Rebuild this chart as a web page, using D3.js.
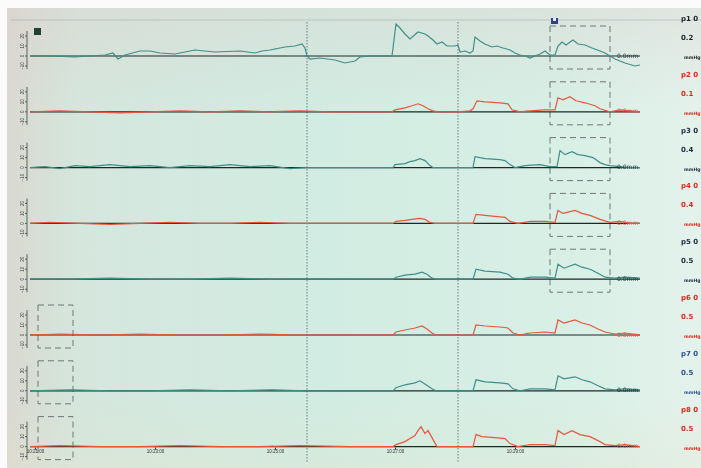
<!DOCTYPE html>
<html>
<head>
<meta charset="utf-8">
<title>Pressure channels</title>
<script src="https://d3js.org/d3.v7.min.js"></script>
<style>
  body { margin: 0; background: #fff; }
  svg { display: block; font-family: "DejaVu Sans", sans-serif; }
</style>
</head>
<body>
<svg id="chart" width="701" height="468"></svg>
<script>
// channel labels on the right
const channelNames = ["p1 0", "p2 0", "p3 0", "p4 0", "p5 0", "p6 0", "p7 0", "p8 0"];
const scaleLabels = ["0.2", "0.1", "0.4", "0.4", "0.5", "0.5", "0.5", "0.5"];
const unitLabel = "mmHg";
const zeroLabel = "0.0mm";
const yTicks = [20, 10, 0, -10];
const timeTicks = [5, 125, 245, 365, 485];
const timeLabels = ["10:21:00", "10:23:00", "10:25:00", "10:27:00", "10:29:00"];
const eventMarks = [277, 428];       // seconds
const boxRangeRight = [520, 580];    // selection box on channels 1-5
const boxRangeLeft = [8, 43];        // selection box on channels 6-8

// traces: [time s, value]
const p1 = [[0,0],[20,0],[45,-1],[60,0],[75,1],[83,3],[88,-3],[95,1],[110,5],[120,5],[130,3],[145,2],[150,3],[165,6],[185,4],[210,5],[225,3],[232,5],[240,6],[250,8],[255,9],[265,10],[272,12],[275,8],[277,0],[280,-3],[290,-2],[305,-4],[315,-7],[325,-5],[330,-1],[340,0],[362,0],[366,32],[370,28],[375,22],[380,17],[388,24],[395,22],[398,20],[403,16],[407,12],[412,14],[417,10],[425,10],[428,11],[430,4],[435,5],[440,3],[443,5],[445,19],[450,15],[455,12],[462,9],[467,10],[473,8],[480,6],[485,3],[490,1],[495,0],[500,-2],[510,2],[515,5],[520,1],[525,1],[528,10],[532,14],[536,11],[543,16],[548,12],[555,11],[562,8],[570,5],[575,3],[580,0],[585,-3],[595,-7],[605,-10],[610,-9]];
const p2 = [[0,0],[30,1],[60,0],[90,-1],[120,0],[150,1],[180,0],[210,1],[240,0],[270,1],[300,0],[330,0],[362,0],[365,2],[375,4],[382,6],[388,8],[393,6],[398,3],[403,1],[408,0],[428,0],[440,1],[443,3],[447,11],[455,10],[470,9],[478,8],[482,2],[490,0],[500,1],[515,2],[525,2],[528,14],[533,12],[540,15],[546,11],[555,9],[565,6],[570,3],[580,0],[590,2],[600,1],[610,0]];
const p3 = [[0,0],[15,1],[30,-1],[45,2],[60,1],[80,3],[100,1],[120,2],[140,0],[160,2],[180,1],[200,3],[220,1],[240,2],[260,-1],[277,0],[300,0],[340,0],[363,0],[365,3],[375,4],[380,6],[385,7],[390,9],[395,7],[400,2],[403,0],[428,0],[443,0],[445,11],[455,9],[470,8],[475,7],[480,3],[485,0],[495,2],[510,3],[515,2],[520,1],[527,1],[530,17],[535,13],[542,16],[548,13],[555,12],[563,10],[570,5],[575,3],[580,2],[590,1],[600,0],[610,0]];
const p4 = [[0,0],[20,1],[50,0],[80,-1],[110,0],[140,1],[170,0],[200,0],[230,1],[260,0],[290,0],[320,0],[363,0],[366,2],[375,3],[382,4],[390,5],[395,4],[400,1],[405,0],[428,0],[443,0],[446,9],[455,8],[465,7],[475,6],[480,2],[488,0],[500,2],[515,2],[525,1],[528,13],[533,10],[545,13],[552,10],[560,8],[570,4],[580,1],[590,2],[600,0],[610,0]];
const p5 = [[0,0],[40,0],[80,1],[120,0],[160,0],[200,1],[240,0],[277,0],[320,0],[363,0],[366,2],[375,4],[385,5],[392,7],[397,5],[402,1],[406,0],[428,0],[443,0],[446,10],[455,8],[470,7],[478,5],[483,1],[490,0],[500,2],[515,2],[525,1],[528,15],[534,11],[545,15],[552,12],[560,10],[568,6],[575,2],[585,1],[595,2],[610,1]];
const p6 = [[0,0],[30,1],[70,0],[110,1],[150,0],[190,0],[230,1],[270,0],[320,0],[363,0],[366,3],[375,5],[385,7],[392,9],[397,6],[402,2],[406,0],[428,0],[443,0],[446,10],[455,9],[470,8],[478,7],[483,2],[490,0],[500,2],[515,3],[525,2],[528,15],[534,12],[545,15],[552,12],[560,10],[568,6],[575,3],[585,1],[595,2],[610,0]];
const p7 = [[0,0],[40,1],[80,0],[120,0],[160,1],[200,0],[240,1],[277,0],[320,0],[363,0],[366,3],[375,6],[385,8],[390,10],[396,6],[402,2],[406,0],[428,0],[443,0],[446,11],[455,9],[470,8],[478,7],[483,2],[490,0],[500,2],[515,2],[525,1],[528,15],[534,12],[545,14],[552,11],[560,9],[568,5],[575,2],[585,1],[595,2],[610,1]];
const p8 = [[0,0],[30,1],[70,0],[110,0],[150,1],[190,0],[230,0],[270,1],[320,0],[363,0],[366,2],[375,5],[380,8],[385,11],[388,16],[391,20],[395,13],[398,16],[402,9],[407,0],[428,0],[443,0],[446,12],[452,10],[465,9],[475,8],[480,3],[488,0],[500,2],[515,2],[525,1],[528,16],[534,12],[542,16],[550,12],[560,10],[568,6],[575,2],[585,1],[595,2],[610,0]];
const traces = [p1, p2, p3, p4, p5, p6, p7, p8];

// styling
const teal = "#3f8f86", red = "#e8553e";
const traceColors = [teal, red, teal, red, teal, red, teal, red];
const labelColors = ["#1b2326", "#e0281c", "#1b2a3a", "#e0281c", "#1b2a3a", "#e0281c", "#2c4f8a", "#e0281c"];

const svg = d3.select("#chart");
const W = 701, H = 468;

// screen background (photo of a monitor)
const defs = svg.append("defs");
const g1 = defs.append("linearGradient").attr("id", "bgH");
[["0%", "#dad9d0"], ["10%", "#d5e6dd"], ["45%", "#d1ece2"], ["80%", "#d8efe6"], ["100%", "#e4f2ec"]]
  .forEach(([o, c]) => g1.append("stop").attr("offset", o).attr("stop-color", c));
const g2 = defs.append("linearGradient").attr("id", "bgV").attr("x1", 0).attr("x2", 0).attr("y1", 0).attr("y2", 1);
g2.append("stop").attr("offset", "0%").attr("stop-color", "#dccfcc").attr("stop-opacity", 0.35);
g2.append("stop").attr("offset", "22%").attr("stop-color", "#dccfcc").attr("stop-opacity", 0);
g2.append("stop").attr("offset", "85%").attr("stop-color", "#e6e4c8").attr("stop-opacity", 0);
g2.append("stop").attr("offset", "100%").attr("stop-color", "#e6e4c8").attr("stop-opacity", 0.25);
defs.append("filter").attr("id", "soft").append("feGaussianBlur").attr("stdDeviation", 0.35);

svg.append("rect").attr("width", W).attr("height", H).attr("fill", "#fbfbfb");
svg.append("rect").attr("x", 7).attr("y", 8).attr("width", W - 7).attr("height", H - 8).attr("fill", "url(#bgH)");
svg.append("rect").attr("x", 7).attr("y", 8).attr("width", W - 7).attr("height", H - 8).attr("fill", "url(#bgV)");

const plot = svg.append("g").attr("filter", "url(#soft)");

// thin line near the top of the screen
plot.append("line").attr("x1", 10).attr("x2", W).attr("y1", 20).attr("y2", 20)
  .attr("stroke", "#9aa6a6").attr("stroke-width", 0.8).attr("opacity", 0.6);

const x = d3.scaleLinear().domain([0, 610]).range([30, 640]);
const baseline = i => 56 + i * 55.8;

// event marker lines
plot.selectAll(".mark").data(eventMarks).enter().append("line")
  .attr("x1", d => x(d)).attr("x2", d => x(d)).attr("y1", 22).attr("y2", 462)
  .attr("stroke", "#4d5f6e").attr("stroke-width", 0.8).attr("stroke-dasharray", "1.5,1.5");

traces.forEach((data, i) => {
  const b = baseline(i);
  const y = d3.scaleLinear().domain([-15, 40]).range([b + 15, b - 40]);
  const g = plot.append("g");

  // selection box
  const box = i < 5 ? boxRangeRight : boxRangeLeft;
  g.append("rect")
    .attr("x", x(box[0])).attr("width", x(box[1]) - x(box[0]))
    .attr("y", y(30)).attr("height", y(-13) - y(30))
    .attr("fill", "none").attr("stroke", "#6f7775").attr("stroke-width", 1)
    .attr("stroke-dasharray", "6,4");

  // left value axis
  const ax = g.append("g").attr("transform", "translate(27,0)")
    .call(d3.axisLeft(y).tickValues(yTicks).tickSize(2));
  ax.select(".domain").attr("stroke", "#5a6260").attr("d", `M0,${y(25)}V${y(-13)}`);
  ax.selectAll("line").attr("stroke", "#5a6260");
  ax.selectAll("text").attr("font-size", 4.5).attr("fill", "#3a3a3a")
    .attr("transform", d => `rotate(-90,-4,${y(d)})`).attr("x", -4).attr("dy", "0.3em")
    .attr("text-anchor", "middle")
    .attr("y", d => y(d));
  ax.selectAll(".tick").attr("transform", null);
  ax.selectAll(".tick line").attr("y1", d => y(d)).attr("y2", d => y(d));

  // zero line
  g.append("line").attr("x1", x(0)).attr("x2", x(610)).attr("y1", y(0)).attr("y2", y(0))
    .attr("stroke", "#1c2a28").attr("stroke-width", 1.2);

  // trace
  g.append("path").datum(data)
    .attr("d", d3.line().x(d => x(d[0])).y(d => y(d[1])))
    .attr("fill", "none").attr("stroke", traceColors[i]).attr("stroke-width", 1.2);

  // zero label
  g.append("text").attr("x", 617).attr("y", y(0) + 1.5)
    .attr("font-size", 6).attr("fill", i % 2 ? red : "#1c3a36").text(zeroLabel);

  // right-hand channel labels
  const r = g.append("g").attr("fill", labelColors[i]);
  r.append("text").attr("x", 681).attr("y", b - 35).attr("font-size", 7).attr("font-weight", "bold").text(channelNames[i]);
  r.append("text").attr("x", 681).attr("y", b - 16).attr("font-size", 7).attr("font-weight", "bold").text(scaleLabels[i]);
  r.append("text").attr("x", 684).attr("y", b + 3).attr("font-size", 4.5).attr("font-weight", "bold").text(unitLabel);
});

// time axis under the last channel
const tAxis = plot.append("g").attr("transform", `translate(0,${baseline(7) + 1})`)
  .call(d3.axisBottom(x).tickValues(timeTicks).tickFormat((d, i) => timeLabels[i]).tickSize(2));
tAxis.select(".domain").remove();
tAxis.selectAll("line").attr("stroke", "#333");
tAxis.selectAll("text").attr("font-size", 4.5).attr("fill", "#333").attr("dy", "0.2em");

// small markers at the top
plot.append("rect").attr("x", 34).attr("y", 28).attr("width", 7).attr("height", 7).attr("fill", "#233f33");
plot.append("rect").attr("x", 551).attr("y", 18).attr("width", 7).attr("height", 6).attr("fill", "#2d3f8a");
plot.append("rect").attr("x", 553).attr("y", 18).attr("width", 3).attr("height", 3).attr("fill", "#e8eef8");
</script>
</body>
</html>
